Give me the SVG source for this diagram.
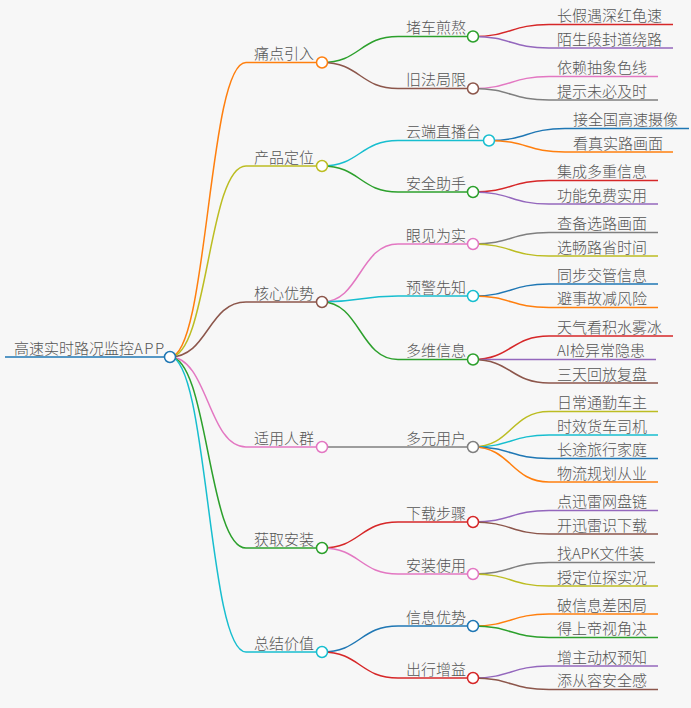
<svg xmlns="http://www.w3.org/2000/svg" width="691" height="708" viewBox="0 0 691 708">
<style>
  .bg { fill: #f7f7f7; }
  .lk { fill: none; stroke-width: 1.5; }
  .ln { fill: none; stroke-width: 1.5; }
  .ci { fill: #ffffff; stroke-width: 1.5; }
  text { font-family: "Noto Sans CJK SC", "Noto Sans", sans-serif; font-size: 15px; font-weight: 300; fill: #555555; }
  .blue { stroke: #1f77b4; } .orange { stroke: #ff7f0e; } .green { stroke: #2ca02c; }
  .red { stroke: #d62728; } .purple { stroke: #9467bd; } .brown { stroke: #8c564b; }
  .pink { stroke: #e377c2; } .gray { stroke: #7f7f7f; } .olive { stroke: #bcbd22; } .cyan { stroke: #17becf; }
</style>
<rect class="bg" x="0" y="0" width="691" height="708"/>

<g id="connectors">
  <!-- root to level 1 -->
  <path class="lk orange" d="M170 357 C208 357,208 62.5,246 62.5"/>
  <path class="lk olive" d="M170 357 C208 357,208 166,246 166"/>
  <path class="lk brown" d="M170 357 C208 357,208 302,246 302"/>
  <path class="lk pink" d="M170 357 C208 357,208 447,246 447"/>
  <path class="lk green" d="M170 357 C208 357,208 548,246 548"/>
  <path class="lk cyan" d="M170 357 C208 357,208 652,246 652"/>
  <!-- level 1 to level 2 -->
  <path class="lk green" d="M322 62.5 C360 62.5,360 36.5,398 36.5"/>
  <path class="lk brown" d="M322 62.5 C360 62.5,360 88.5,398 88.5"/>
  <path class="lk cyan" d="M322 166 C360 166,360 140.5,398 140.5"/>
  <path class="lk green" d="M322 166 C360 166,360 192,398 192"/>
  <path class="lk pink" d="M322 302 C360 302,360 244,398 244"/>
  <path class="lk cyan" d="M322 302 C360 302,360 296,398 296"/>
  <path class="lk green" d="M322 302 C360 302,360 359.5,398 359.5"/>
  <path class="lk gray" d="M322 447 L398 447"/>
  <path class="lk red" d="M322 548 C360 548,360 522,398 522"/>
  <path class="lk pink" d="M322 548 C360 548,360 574,398 574"/>
  <path class="lk blue" d="M322 652 C360 652,360 626,398 626"/>
  <path class="lk red" d="M322 652 C360 652,360 678,398 678"/>
  <!-- level 2 to level 3 -->
  <path class="lk red" d="M473 36.5 C511 36.5,511 24.5,549 24.5"/>
  <path class="lk purple" d="M473 36.5 C511 36.5,511 48,549 48"/>
  <path class="lk pink" d="M473 88.5 C511 88.5,511 76.5,549 76.5"/>
  <path class="lk gray" d="M473 88.5 C511 88.5,511 100,549 100"/>
  <path class="lk blue" d="M489 140.5 C527 140.5,527 128.5,565 128.5"/>
  <path class="lk orange" d="M489 140.5 C527 140.5,527 152,565 152"/>
  <path class="lk red" d="M473 192 C511 192,511 180.5,549 180.5"/>
  <path class="lk purple" d="M473 192 C511 192,511 204,549 204"/>
  <path class="lk gray" d="M473 244 C511 244,511 232.5,549 232.5"/>
  <path class="lk olive" d="M473 244 C511 244,511 256,549 256"/>
  <path class="lk blue" d="M473 296 C511 296,511 284,549 284"/>
  <path class="lk orange" d="M473 296 C511 296,511 307.5,549 307.5"/>
  <path class="lk red" d="M473 359.5 C511 359.5,511 336,549 336"/>
  <path class="lk purple" d="M473 359.5 C511 359.5,511 359.5,549 359.5"/>
  <path class="lk brown" d="M473 359.5 C511 359.5,511 383,549 383"/>
  <path class="lk olive" d="M473 447 C511 447,511 411.5,549 411.5"/>
  <path class="lk cyan" d="M473 447 C511 447,511 435,549 435"/>
  <path class="lk blue" d="M473 447 C511 447,511 458.5,549 458.5"/>
  <path class="lk orange" d="M473 447 C511 447,511 482,549 482"/>
  <path class="lk purple" d="M473 522 C511 522,511 510.5,549 510.5"/>
  <path class="lk brown" d="M473 522 C511 522,511 534,549 534"/>
  <path class="lk gray" d="M473 574 C511 574,511 562.5,549 562.5"/>
  <path class="lk olive" d="M473 574 C511 574,511 586,549 586"/>
  <path class="lk orange" d="M473 626 C511 626,511 614,549 614"/>
  <path class="lk green" d="M473 626 C511 626,511 637.5,549 637.5"/>
  <path class="lk purple" d="M473 678 C511 678,511 666,549 666"/>
  <path class="lk brown" d="M473 678 C511 678,511 689.5,549 689.5"/>
</g>

<!-- root -->
<g id="n-root"><path class="ln blue" d="M5 357 H170"/><text x="14" y="353.5">高速实时路况监控<tspan letter-spacing="1.5">APP</tspan></text><circle class="ci blue" cx="170" cy="357" r="5.5"/></g>

<!-- level 1 -->
<g id="n-1"><path class="ln orange" d="M246 62.5 H322"/><text x="254" y="59">痛点引入</text><circle class="ci orange" cx="322" cy="62.5" r="5.5"/></g>
<g id="n-2"><path class="ln olive" d="M246 166 H322"/><text x="254" y="162.5">产品定位</text><circle class="ci olive" cx="322" cy="166" r="5.5"/></g>
<g id="n-3"><path class="ln brown" d="M246 302 H322"/><text x="254" y="298.5">核心优势</text><circle class="ci brown" cx="322" cy="302" r="5.5"/></g>
<g id="n-4"><path class="ln pink" d="M246 447 H322"/><text x="254" y="443.5">适用人群</text><circle class="ci pink" cx="322" cy="447" r="5.5"/></g>
<g id="n-5"><path class="ln green" d="M246 548 H322"/><text x="254" y="544.5">获取安装</text><circle class="ci green" cx="322" cy="548" r="5.5"/></g>
<g id="n-6"><path class="ln cyan" d="M246 652 H322"/><text x="254" y="648.5">总结价值</text><circle class="ci cyan" cx="322" cy="652" r="5.5"/></g>

<!-- level 2 -->
<g id="n-1-1"><path class="ln green" d="M398 36.5 H473"/><text x="406" y="33">堵车煎熬</text><circle class="ci green" cx="473" cy="36.5" r="5.5"/></g>
<g id="n-1-2"><path class="ln brown" d="M398 88.5 H473"/><text x="406" y="85">旧法局限</text><circle class="ci brown" cx="473" cy="88.5" r="5.5"/></g>
<g id="n-2-1"><path class="ln cyan" d="M398 140.5 H489"/><text x="406" y="137">云端直播台</text><circle class="ci cyan" cx="489" cy="140.5" r="5.5"/></g>
<g id="n-2-2"><path class="ln green" d="M398 192 H473"/><text x="406" y="188.5">安全助手</text><circle class="ci green" cx="473" cy="192" r="5.5"/></g>
<g id="n-3-1"><path class="ln pink" d="M398 244 H473"/><text x="406" y="240.5">眼见为实</text><circle class="ci pink" cx="473" cy="244" r="5.5"/></g>
<g id="n-3-2"><path class="ln cyan" d="M398 296 H473"/><text x="406" y="292.5">预警先知</text><circle class="ci cyan" cx="473" cy="296" r="5.5"/></g>
<g id="n-3-3"><path class="ln green" d="M398 359.5 H473"/><text x="406" y="356">多维信息</text><circle class="ci green" cx="473" cy="359.5" r="5.5"/></g>
<g id="n-4-1"><path class="ln gray" d="M398 447 H473"/><text x="406" y="443.5">多元用户</text><circle class="ci gray" cx="473" cy="447" r="5.5"/></g>
<g id="n-5-1"><path class="ln red" d="M398 522 H473"/><text x="406" y="518.5">下载步骤</text><circle class="ci red" cx="473" cy="522" r="5.5"/></g>
<g id="n-5-2"><path class="ln pink" d="M398 574 H473"/><text x="406" y="570.5">安装使用</text><circle class="ci pink" cx="473" cy="574" r="5.5"/></g>
<g id="n-6-1"><path class="ln blue" d="M398 626 H473"/><text x="406" y="622.5">信息优势</text><circle class="ci blue" cx="473" cy="626" r="5.5"/></g>
<g id="n-6-2"><path class="ln red" d="M398 678 H473"/><text x="406" y="674.5">出行增益</text><circle class="ci red" cx="473" cy="678" r="5.5"/></g>

<!-- level 3 -->
<g id="n-1-1-1"><path class="ln red" d="M549 24.5 H673"/><text x="557" y="21">长假遇深红龟速</text></g>
<g id="n-1-1-2"><path class="ln purple" d="M549 48 H673"/><text x="557" y="44.5">陌生段封道绕路</text></g>
<g id="n-1-2-1"><path class="ln pink" d="M549 76.5 H658"/><text x="557" y="73">依赖抽象色线</text></g>
<g id="n-1-2-2"><path class="ln gray" d="M549 100 H658"/><text x="557" y="96.5">提示未必及时</text></g>
<g id="n-2-1-1"><path class="ln blue" d="M565 128.5 H689"/><text x="573" y="125">接全国高速摄像</text></g>
<g id="n-2-1-2"><path class="ln orange" d="M565 152 H673"/><text x="573" y="148.5">看真实路画面</text></g>
<g id="n-2-2-1"><path class="ln red" d="M549 180.5 H658"/><text x="557" y="177">集成多重信息</text></g>
<g id="n-2-2-2"><path class="ln purple" d="M549 204 H658"/><text x="557" y="200.5">功能免费实用</text></g>
<g id="n-3-1-1"><path class="ln gray" d="M549 232.5 H658"/><text x="557" y="229">查备选路画面</text></g>
<g id="n-3-1-2"><path class="ln olive" d="M549 256 H658"/><text x="557" y="252.5">选畅路省时间</text></g>
<g id="n-3-2-1"><path class="ln blue" d="M549 284 H658"/><text x="557" y="280.5">同步交管信息</text></g>
<g id="n-3-2-2"><path class="ln orange" d="M549 307.5 H658"/><text x="557" y="304">避事故减风险</text></g>
<g id="n-3-3-1"><path class="ln red" d="M549 336 H673"/><text x="557" y="332.5">天气看积水雾冰</text></g>
<g id="n-3-3-2"><path class="ln purple" d="M549 359.5 H656"/><text x="557" y="356">AI检异常隐患</text></g>
<g id="n-3-3-3"><path class="ln brown" d="M549 383 H658"/><text x="557" y="379.5">三天回放复盘</text></g>
<g id="n-4-1-1"><path class="ln olive" d="M549 411.5 H658"/><text x="557" y="408">日常通勤车主</text></g>
<g id="n-4-1-2"><path class="ln cyan" d="M549 435 H658"/><text x="557" y="431.5">时效货车司机</text></g>
<g id="n-4-1-3"><path class="ln blue" d="M549 458.5 H658"/><text x="557" y="455">长途旅行家庭</text></g>
<g id="n-4-1-4"><path class="ln orange" d="M549 482 H658"/><text x="557" y="478.5">物流规划从业</text></g>
<g id="n-5-1-1"><path class="ln purple" d="M549 510.5 H658"/><text x="557" y="507">点迅雷网盘链</text></g>
<g id="n-5-1-2"><path class="ln brown" d="M549 534 H658"/><text x="557" y="530.5">开迅雷识下载</text></g>
<g id="n-5-2-1"><path class="ln gray" d="M549 562.5 H655"/><text x="557" y="559">找APK文件装</text></g>
<g id="n-5-2-2"><path class="ln olive" d="M549 586 H658"/><text x="557" y="582.5">授定位探实况</text></g>
<g id="n-6-1-1"><path class="ln orange" d="M549 614 H658"/><text x="557" y="610.5">破信息差困局</text></g>
<g id="n-6-1-2"><path class="ln green" d="M549 637.5 H658"/><text x="557" y="634">得上帝视角决</text></g>
<g id="n-6-2-1"><path class="ln purple" d="M549 666 H658"/><text x="557" y="662.5">增主动权预知</text></g>
<g id="n-6-2-2"><path class="ln brown" d="M549 689.5 H658"/><text x="557" y="686">添从容安全感</text></g>
</svg>
